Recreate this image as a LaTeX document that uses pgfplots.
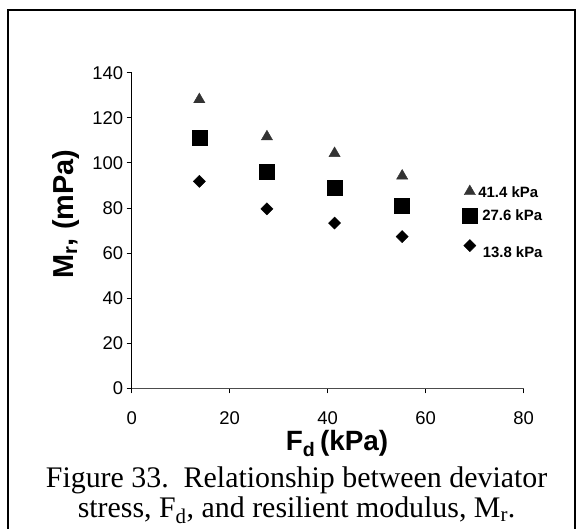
\documentclass[border=0pt]{standalone}
\usepackage{fontspec}
\setmainfont{Liberation Serif}
\newfontfamily\arial{Liberation Sans}
\usepackage{pgfplots}
\pgfplotsset{compat=1.18}

\begin{document}
\begin{tikzpicture}[x=1bp,y=1bp]
\useasboundingbox (0,0) rectangle (581,529);
% frame round figure and caption
\draw[line width=2.3bp] (8,-20) -- (8,518.8) -- (575,518.8) -- (575,-20);
\begin{axis}[
  at={(131.7bp,140.7bp)}, anchor=origin,
  scale only axis, width=392bp, height=315.6bp,
  xmin=0, xmax=80, ymin=0, ymax=140,
  xtick={0,20,...,80}, ytick={0,20,...,140},
  axis x line=bottom, axis y line=left,
  axis line style={-, line width=0.9bp},
  x axis line style={draw=black!70},
  tick align=outside, major tick length=5bp,
  tick style={black, line width=0.8bp},
  /pgf/number format/assume math mode=true,
  tick label style={font=\arial\fontsize{18.5}{18.5}\selectfont},
  xticklabel style={anchor=north, inner sep=0pt, yshift=-18.5bp},
  xlabel={\arial\bfseries F\textsubscript{d}\,(kPa)},
  xlabel style={at={(axis description cs:0.524,0)}, anchor=north, inner sep=0pt, yshift=-42bp, font=\fontsize{28}{28}\selectfont},
  ylabel={\arial\bfseries M\textsubscript{r}, (mPa)},
  ylabel style={at={(axis description cs:-0.1676,0.552)}, anchor=center, inner sep=0pt, font=\fontsize{29}{29}\selectfont},
  clip=false,
]
% 41.4 kPa
\addplot[only marks, mark=triangle*, mark size=6.5bp, color=black!80] coordinates {(13.8,128.1) (27.6,111.6) (41.4,104.2) (55.2,94.2) (69,87.3)};
% 27.6 kPa
\addplot[only marks, mark=square*, mark size=7.5bp, color=black] coordinates {(13.8,111.2) (27.6,96.3) (41.4,89.0) (55.2,81.0) (69,76.6)};
% 13.8 kPa
\addplot[only marks, mark=square*, mark size=4.3bp, mark options={rotate=45}, color=black] coordinates {(13.8,91.8) (27.6,79.6) (41.4,73.3) (55.2,67.3) (69,63.3)};
\begin{scope}[every node/.style={anchor=west, inner sep=0pt, font=\arial\bfseries\fontsize{15}{15}\selectfont}]
\node at (axis cs:70.7,87.0) {41.4 kPa};
\node at (axis cs:71.5,76.6) {27.6 kPa};
\node at (axis cs:71.6,60.5) {13.8 kPa};
\end{scope}
\end{axis}
\begin{scope}[every node/.style={anchor=base, inner sep=0pt, font=\fontsize{30}{30}\selectfont}]
\node at (296.6,41.5) {Figure 33.\ \ Relationship between deviator};
\node at (296.6,11) {stress, F\textsubscript{d}, and resilient modulus, M\textsubscript{r}.};
\end{scope}
\end{tikzpicture}
\end{document}
